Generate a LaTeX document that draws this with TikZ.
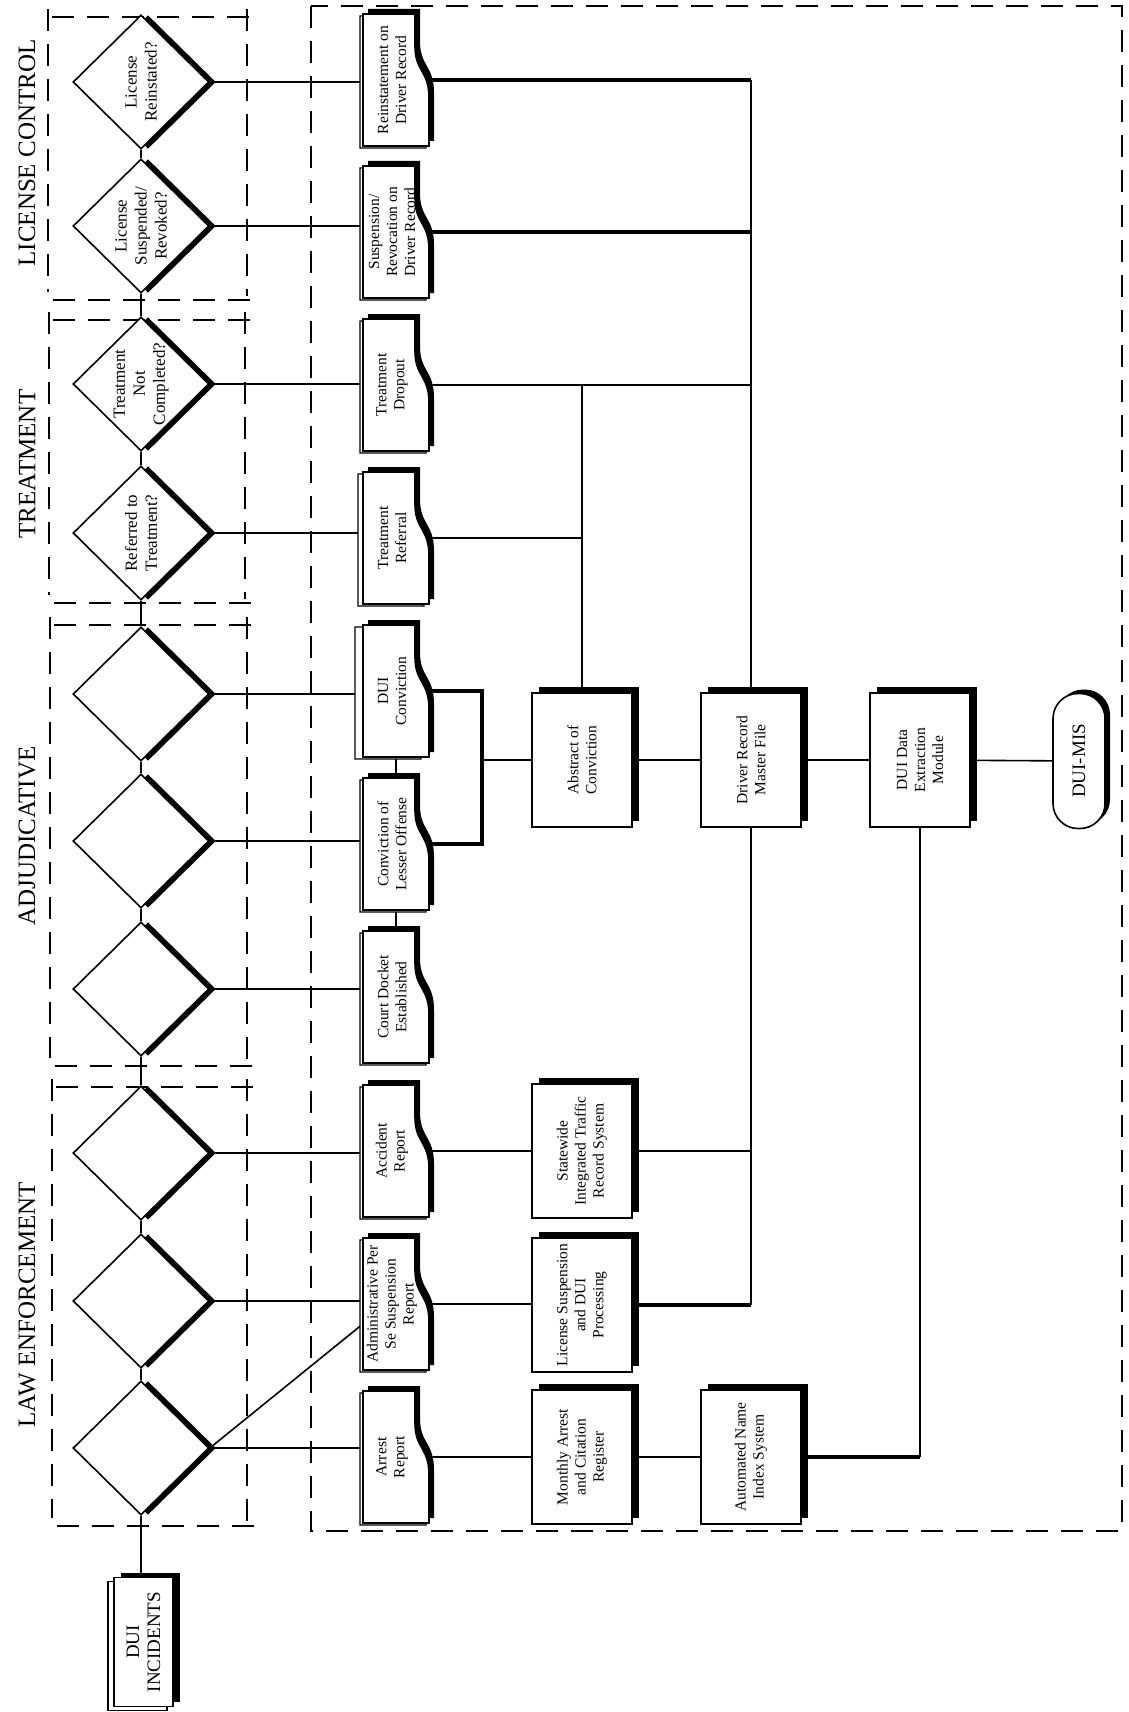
\documentclass[tikz,border=0pt]{standalone}
\usepackage{fontspec}
\setmainfont{Liberation Serif}
\usetikzlibrary{shapes.geometric,shadows,backgrounds,positioning,calc}

\tikzset{
  secline/.style={line width=1.8pt,dash pattern=on 22pt off 13pt},
  conn/.style={line width=1.6pt},
  midconn/.style={line width=2.6pt},
  thickconn/.style={line width=3.4pt},
  decision/.style={diamond,draw,line width=1.6pt,fill=white,inner sep=0pt,
    minimum width=136pt,minimum height=134pt,
    drop shadow={shadow xshift=7pt,shadow yshift=0pt,fill=black,opacity=1}},
  process/.style={rectangle,draw,line width=1.6pt,fill=white,inner sep=0pt,
    minimum width=100pt,minimum height=134pt,
    drop shadow={shadow xshift=7pt,shadow yshift=6pt,fill=black,opacity=1}},
  terminal/.style={rectangle,rounded corners=25pt,draw,line width=1.6pt,fill=white,
    inner sep=0pt,minimum width=52pt,minimum height=135pt,
    drop shadow={shadow xshift=5pt,shadow yshift=4pt,fill=black,opacity=1}},
  incbox/.style={rectangle,draw,line width=1.6pt,fill=white,inner sep=0pt,
    minimum width=59pt,minimum height=129pt,
    copy shadow={shadow xshift=-6pt,shadow yshift=-4pt,draw=black,fill=white,line width=1.2pt},
    drop shadow={shadow xshift=7pt,shadow yshift=5pt,fill=black,opacity=1}},
  docnode/.style={rectangle,draw=none,inner sep=0pt,minimum width=66pt,minimum height=132pt},
  doclabel/.style={rotate=90,align=center,font=\fontsize{15.5}{18}\selectfont},
  formlabel/.style={xshift=-4pt,doclabel},
  diamlabel/.style={rotate=90,align=center,font=\fontsize{17}{20}\selectfont},
  biglabel/.style={rotate=90,align=center,font=\fontsize{19}{21}\selectfont},
  title/.style={rotate=90,font=\fontsize{25}{30}\selectfont}
}

% document symbol, wavy edge on the right, centred on (0,0)
\newcommand{\docpath}{(-33,-66) -- (19,-66) -- (19,-34) .. controls (19,-8) and (33,-10) .. (33,18) -- (33,66) -- (-33,66) -- cycle}
% #1 back offset, #2 name, #3 centre, #4 text
\newcommand{\docbox}[4][3]{%
  \begin{scope}[shift={(#3)}]
    \draw[line width=1.2pt,fill=white,shift={(-#1,2)}] \docpath;
    \fill[shift={(5,-5)}] \docpath;
    \draw[line width=1.6pt,fill=white] \docpath;
  \end{scope}
  \node[docnode,label={[formlabel]center:#4}] (#2) at (#3) {};
}

\begin{document}
\begin{tikzpicture}[x=1pt,y=-1pt]
\useasboundingbox (0,0) rectangle (1128,1712);

% section frames
\foreach \l/\t/\r/\b in {48/17/247/300,49/320/245/603,50/625/247/1066,52/1087/247/1526}{
  \draw[secline] (\l,\t-8) -- (\l,\b-8);
  \draw[secline] (\l+4,\t) -- (\r+7,\t);
  \draw[secline] (\r,\t-8) -- (\r,\b-4);
  \draw[secline] (\l+5,\b) -- (\r+7,\b);
}
\draw[secline] (311,6) rectangle (1122,1531);

\node[title] (lctitle) at (27,153) {LICENSE CONTROL};
\node[title] (trtitle) at (27,464) {TREATMENT};
\node[title] (adjtitle) at (27,836) {ADJUDICATIVE};
\node[title] (lawtitle) at (27,1305) {LAW ENFORCEMENT};

% decisions
\node[decision,label={[diamlabel]center:License\\Reinstated?}] (lcrein) at (141,82) {};
\node[decision,label={[diamlabel]center:License\\Suspended/\\Revoked?}] (lcsusp) at (141,226) {};
\node[decision,label={[diamlabel]center:Treatment\\Not\\Completed?}] (trnot) at (141,384) {};
\node[decision,label={[diamlabel]center:Referred to\\Treatment?}] (trref) at (141,533) {};
\node[decision] (adj1) at (141,694) {};
\node[decision] (adj2) at (141,841) {};
\node[decision] (adj3) at (141,989) {};
\node[decision] (law1) at (141,1153) {};
\node[decision] (law2) at (141,1301) {};
\node[decision] (law3) at (141,1448) {};

\node[incbox,label={[biglabel]center:DUI\\INCIDENTS}] (inc) at (143.5,1642) {};

% forms
\docbox{reins}{396,80}{Reinstatement on\\Driver Record}
\docbox{susp}{396,232}{Suspension/\\Revocation on\\Driver Record}
\docbox{drop}{396,385}{Treatment\\Dropout}
\docbox[5]{refer}{396,538}{Treatment\\Referral}
\docbox[8]{duiconv}{396,691}{DUI\\Conviction}
\docbox{lesser}{396,844}{Conviction of\\Lesser Offense}
\docbox{docket}{396,997}{Court Docket\\Established}
\docbox{accid}{396,1151}{Accident\\Report}
\docbox{adminps}{396,1304}{Administrative Per\\Se Suspension\\Report}
\docbox{arrest}{396,1457}{Arrest\\Report}

% processing
\node[process,label={[doclabel]center:Abstract of\\Conviction}] (abs) at (582,760) {};
\node[process,label={[doclabel]center:Driver Record\\Master File}] (drm) at (751,760) {};
\node[process,label={[doclabel]center:DUI Data\\Extraction\\Module}] (ext) at (920,760) {};
\node[terminal,label={[biglabel]center:DUI-MIS}] (mis) at (1079,761) {};
\node[process,label={[doclabel]center:Statewide\\Integrated Traffic\\Record System}] (statew) at (582,1151) {};
\node[process,label={[doclabel]center:License Suspension\\and DUI\\Processing}] (lsusp) at (582,1305) {};
\node[process,label={[doclabel]center:Monthly Arrest\\and Citation\\Register}] (monthly) at (582,1457) {};
\node[process,label={[doclabel]center:Automated Name\\Index System}] (autoname) at (751,1457) {};

\coordinate (cvj) at (482,760);

\begin{scope}[on background layer]
\foreach \a/\b in {lcrein/lcsusp,lcsusp/trnot,trnot/trref,trref/adj1,adj1/adj2,adj2/adj3,adj3/law1,law1/law2,law2/law3}
  \draw[conn] (\a.south) -- (\b.north);
\draw[conn] (law3.south) -- (law3.south |- inc.north);
\foreach \d/\f in {lcrein/reins,lcsusp/susp,trnot/drop,trref/refer,adj1/duiconv,adj2/lesser,adj3/docket,law1/accid,law2/adminps,law3/arrest}
  \draw[conn] (\d.east) -- (\d.east -| \f.west);
\draw[conn] (law3.east) -- ([yshift=-20pt]adminps.west);
% upper bus
\draw[conn] (drm.north) -- (drm.north |- reins.center);
\draw[thickconn] (reins.center) -- (reins.center -| drm.north);
\draw[thickconn] (susp.center) -- (susp.center -| drm.north);
\draw[conn] (drop.center) -- (drop.center -| drm.north);
\draw[conn] (abs.north) -- (abs.north |- drop.center);
\draw[conn] (refer.center) -- (refer.center -| abs.north);
\draw[thickconn] (duiconv.center) -| (cvj) |- (lesser.center);
\draw[conn] (cvj) -- (abs.west);
\draw[conn] (duiconv.south) -- (lesser.north);
\draw[conn] (lesser.south) -- (docket.north);
\draw[conn] (abs) -- (drm);
\draw[conn] (drm) -- (ext);
\draw[conn] (ext) -- (mis);
% lower bus
\draw[midconn] (drm.south) -- (drm.south |- lsusp.east);
\draw[conn] (accid.center) -- (accid.center -| statew.west);
\draw[conn] (statew.east) -- (statew.east -| drm.south);
\draw[conn] (adminps.center) -- (adminps.center -| lsusp.west);
\draw[thickconn] (lsusp.east) -- (lsusp.east -| drm.south);
\draw[conn] (arrest.center) -- (arrest.center -| monthly.west);
\draw[conn] (monthly) -- (autoname);
\draw[thickconn] (autoname.east) -- (autoname.east -| ext.south);
\draw[midconn] (ext.south) -- (ext.south |- autoname.east);
\end{scope}
\end{tikzpicture}
\end{document}
